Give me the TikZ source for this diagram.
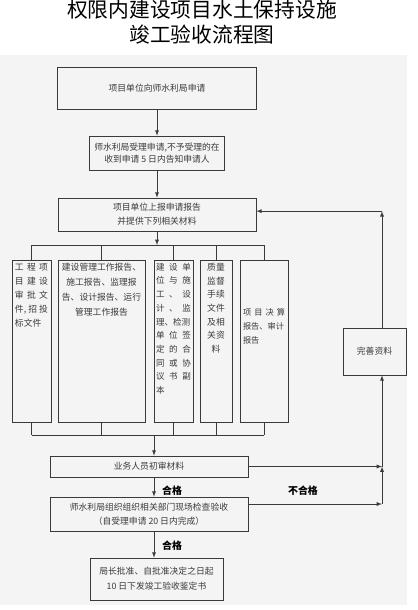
\documentclass[tikz,border=0pt]{standalone}
\usepackage{fontspec}
\setmainfont{Noto Sans CJK SC}
\usepackage{xcolor}
\usepackage{tikz}
\definecolor{ink}{HTML}{3A3A3A}
\definecolor{paper}{HTML}{F4F4F4}
\newcommand{\colbox}[2]{\parbox[c][4.7cm][t]{#1}{#2}}

\begin{document}
\begin{tikzpicture}[
    x=0.03cm, y=-0.03cm,
    box/.style={draw=ink, line width=0.6pt, inner sep=1pt, align=center, text=ink, font=\fontsize{7.5}{10.2}\selectfont},
    col/.style={draw=ink, line width=0.6pt, inner xsep=0.05cm, inner ysep=0.08cm, minimum width=#1, anchor=north, text=ink},
    arr/.style={->, >=latex, draw=ink, line width=0.6pt},
    lnk/.style={draw=ink, line width=0.6pt},
    pass/.style={font=\fontsize{8.5}{10}\selectfont\bfseries, text=black}
]
\useasboundingbox (0,0) rectangle (418,610);
\fill[paper] (0,55) rectangle (407,605);

\node[font=\fontsize{17.7}{21.3}\selectfont, align=center] (title) at (202,22.5) {权限内建设项目水土保持设施\\竣工验收流程图};

\node[box, minimum width=5.97cm, minimum height=1.26cm] (apply) at (157,88) {项目单位向师水利局申请};
\node[box, minimum width=4.05cm, minimum height=1.02cm] (accept) at (157,153) {师水利局受理申请,不予受理的在\\收到申请 5 日内告知申请人};
\node[box, minimum width=5.94cm, minimum height=0.99cm, font=\fontsize{7.5}{12}\selectfont] (report) at (157,214.5) {项目单位上报申请报告\\并提供下列相关材料};

% materials
\node[col=1.17cm] (matA) at (31.5,260) {\colbox{0.99cm}{\raggedright\fontsize{7.5}{12}\selectfont
  工\hfill 程\hfill 项\\目\hfill 建\hfill 设\\审\hfill 批\hfill 文\\件,\hfill 招\hfill 投\\标文件}};
\node[col=2.61cm] (matB) at (101.5,260) {\colbox{2.45cm}{\centering\fontsize{7.5}{12.7}\selectfont
  建设管理工作报告、\\施工报告、监理报\\告、设计报告、运行\\管理工作报告}};
\node[col=1.17cm] (matC) at (173.5,260) {\colbox{1.05cm}{\raggedright\fontsize{7.3}{11.7}\selectfont
  建\hfill 设\hfill 单\\位\hfill 与\hfill 施\\工\hfill 、\hfill 设\\计\hfill 、\hfill 监\\理、检测\\单\hfill 位\hfill 签\\定\hfill 的\hfill 合\\同\hfill 或\hfill 协\\议\hfill 书\hfill 副\\本}};
\node[col=0.96cm] (matD) at (216,260) {\colbox{0.8cm}{\centering\fontsize{7.5}{11.7}\selectfont
  质量\\监督\\手续\\文件\\及相\\关资\\料}};
\node[col=1.44cm] (matE) at (264,260) {\parbox[c][4.7cm][c]{1.26cm}{\raggedright\fontsize{7}{12}\selectfont
  项\hfill 目\hfill 决\hfill 算\\报告、审计\\报告\par\vspace{0.9cm}}};

\coordinate (topbus) at (157,245);
\coordinate (botbus) at (154,435);
\draw[arr] (report) -- (report.south |- topbus);
\draw[lnk] (matA.north |- topbus) -- (matE.north |- topbus);
\draw[lnk] (matA.south |- botbus) -- (matE.south |- botbus);
\foreach \m in {matA,matB,matC,matD,matE} {
  \draw[lnk] (\m.north) -- (\m.north |- topbus);
  \draw[lnk] (\m.south) -- (\m.south |- botbus);
}

\node[box, minimum width=5.94cm, minimum height=0.63cm] (check) at (149,466.5) {业务人员初审材料};
\node[box, minimum width=5.94cm, minimum height=1.02cm, font=\fontsize{7.5}{12}\selectfont] (inspect) at (149,514) {师水利局组织组织相关部门现场检查验收\\（自受理申请 20 日内完成）};
\node[box, minimum width=3.99cm, minimum height=1.26cm, font=\fontsize{7.5}{13}\selectfont] (approve) at (156.5,579) {局长批准、自批准决定之日起\\10 日下发竣工验收鉴定书};
\node[box, minimum width=1.89cm, minimum height=1.41cm] (fix) at (374.5,351.5) {完善资料};

\draw[arr] (apply) -- (accept);
\draw[arr] (accept) -- (report);
\draw[arr] (botbus) -- (check.north -| botbus);
\draw[arr] (check.south -| botbus) -- (inspect.north -| botbus);
\draw[arr] (inspect.south -| botbus) -- (approve.north -| botbus);

% return loop
\coordinate (rx) at (382,0);
\draw[arr] ([yshift=0.3cm]inspect.east) -- ([yshift=0.3cm]inspect.east -| rx);
\draw[arr] ([yshift=0.3cm]inspect.east -| rx) -- (check.east -| rx);
\draw[arr] (check.east) -- (check.east -| rx);
\draw[arr] (check.east -| rx) -- (fix.south -| rx);
\draw[arr] (fix.north -| rx) -- ([yshift=0.1cm]report.east -| rx);
\draw[arr] ([yshift=0.1cm]report.east -| rx) -- ([yshift=0.1cm]report.east);

\node[pass] (ok1) at (172,491) {合格};
\node[pass] (ok2) at (172,546) {合格};
\node[pass] (fail) at (303,491) {不合格};
\end{tikzpicture}
\end{document}
